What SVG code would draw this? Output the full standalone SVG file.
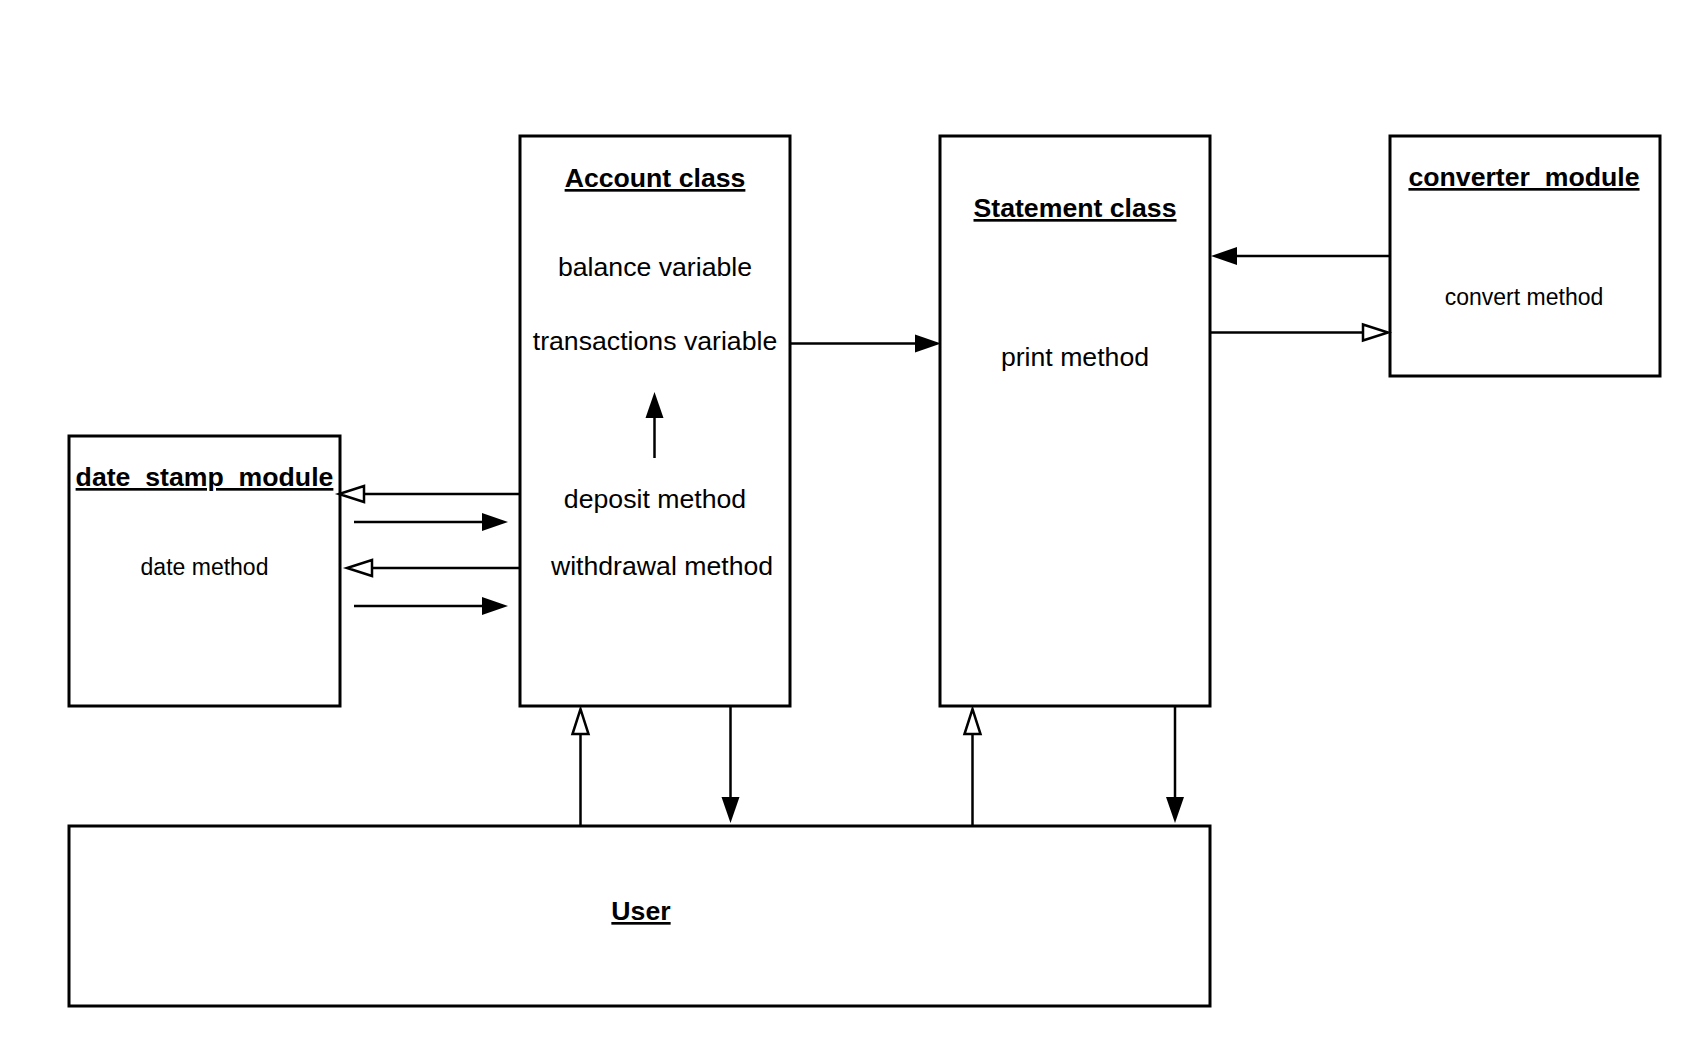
<svg xmlns="http://www.w3.org/2000/svg" width="1690" height="1050" viewBox="0 0 1690 1050">
<style>
.box{fill:#fff;stroke:#000;stroke-width:3}
.t{font-family:"Liberation Sans",Arial,sans-serif;font-size:26.67px;fill:#000;text-anchor:middle}
.h{font-weight:bold;text-decoration:underline}
.s{font-size:23px}
.c{stroke:#000;stroke-width:2.5;fill:none}
.f{marker-end:url(#filled)}
.o{marker-end:url(#open)}
</style>
<defs>
<marker id="filled" markerUnits="userSpaceOnUse" viewBox="0 -10 27 20" refX="0" refY="0" markerWidth="27" markerHeight="20" orient="auto" overflow="visible">
<path d="M0,-9 L26,0 L0,9 z" fill="#000"/>
</marker>
<marker id="open" markerUnits="userSpaceOnUse" viewBox="-2 -10 30 20" refX="0" refY="0" markerWidth="30" markerHeight="20" orient="auto" overflow="visible">
<path d="M0,-8 L25,0 L0,8 z" fill="#fff" stroke="#000" stroke-width="2.5"/>
</marker>
</defs>
<rect width="1690" height="1050" fill="#fff"/>
<g id="account">
<rect class="box" x="520" y="136" width="270" height="570"/>
<text class="t h" x="655" y="187">Account class</text>
<text class="t" x="655" y="276">balance variable</text>
<text class="t" x="655" y="350">transactions variable</text>
<text class="t" x="655" y="508">deposit method</text>
<text class="t" x="662" y="575">withdrawal method</text>
</g>
<g id="statement">
<rect class="box" x="940" y="136" width="270" height="570"/>
<text class="t h" x="1075" y="217">Statement class</text>
<text class="t" x="1075" y="366">print method</text>
</g>
<g id="converter">
<rect class="box" x="1390" y="136" width="270" height="240"/>
<text class="t h" x="1524" y="186">converter_module</text>
<text class="t s" x="1524" y="305">convert method</text>
</g>
<g id="date_stamp">
<rect class="box" x="69" y="436" width="271" height="270"/>
<text class="t h" x="204.5" y="486">date_stamp_module</text>
<text class="t s" x="204.5" y="575">date method</text>
</g>
<g id="user">
<rect class="box" x="69" y="826" width="1141" height="180"/>
<text class="t h" x="641" y="920">User</text>
</g>
<g id="connectors">
<line class="c o" x1="520" y1="494" x2="364" y2="494"/>
<line class="c f" x1="354" y1="522" x2="482" y2="522"/>
<line class="c o" x1="520" y1="568" x2="372" y2="568"/>
<line class="c f" x1="354" y1="606" x2="482" y2="606"/>
<line class="c f" x1="790" y1="343.5" x2="915" y2="343.5"/>
<line class="c f" x1="654.5" y1="458" x2="654.5" y2="418"/>
<line class="c f" x1="1390" y1="256" x2="1237" y2="256"/>
<line class="c o" x1="1210" y1="332.5" x2="1363" y2="332.5"/>
<line class="c o" x1="580.5" y1="826" x2="580.5" y2="734"/>
<line class="c f" x1="730.5" y1="706" x2="730.5" y2="797"/>
<line class="c o" x1="972.5" y1="826" x2="972.5" y2="734"/>
<line class="c f" x1="1175" y1="706" x2="1175" y2="797"/>
</g>
</svg>
